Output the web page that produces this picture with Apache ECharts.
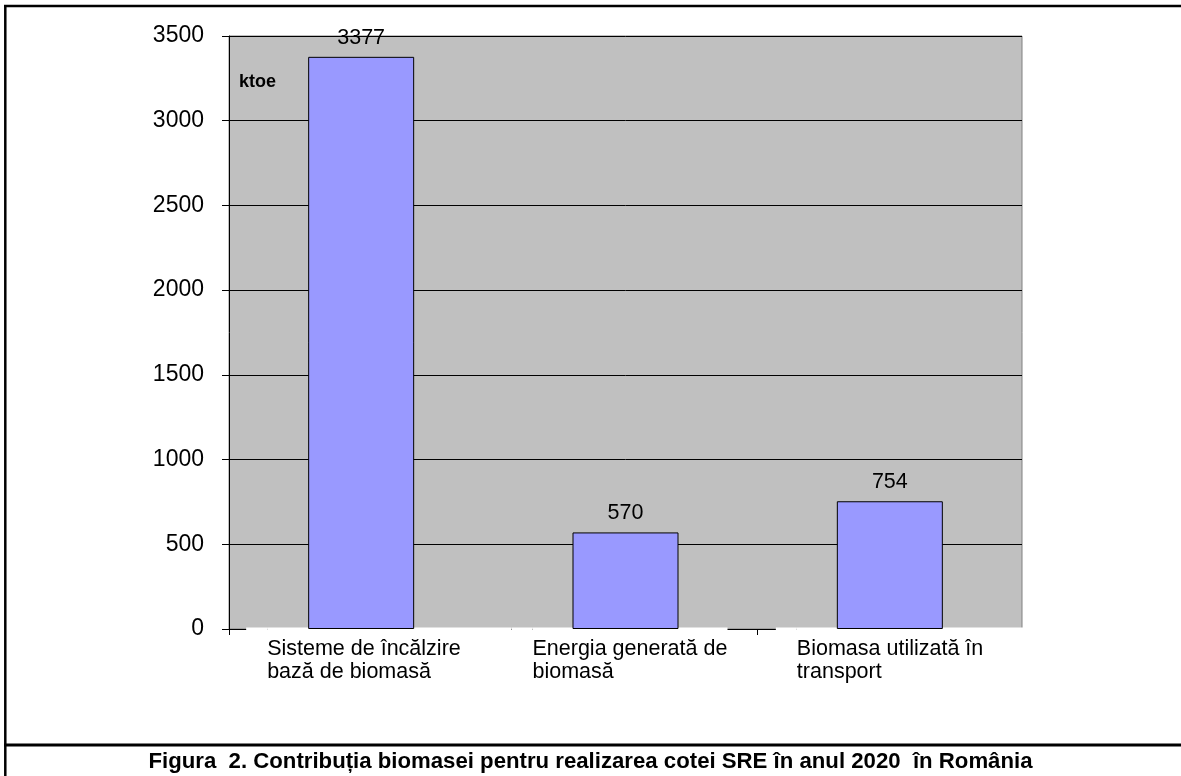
<!DOCTYPE html>
<html>
<head>
<meta charset="utf-8">
<title>Figura 2. Contribuția biomasei</title>
<script src="https://cdn.jsdelivr.net/npm/echarts@6/dist/echarts.min.js"></script>
<style>
  html, body { margin: 0; padding: 0; background: #fff; }
  #chart { width: 1181px; height: 776px; }
</style>
</head>
<body>
<div id="chart"></div>
<script>
// Biomass contribution to the 2020 renewable-energy share (ktoe)
const categories = [
  'Sisteme de încălzire\nbază de biomasă',
  'Energia generată de\nbiomasă',
  'Biomasa utilizată în\ntransport'
];
const values = [3377, 570, 754];
const yTicks = { min: 0, max: 3500, interval: 500 };
const unitLabel = 'ktoe';
const figureTitle = 'Figura  2. Contribuția biomasei pentru realizarea cotei SRE în anul 2020  în România';

const FONT = '"Liberation Sans", Arial, sans-serif';

// Each category label sits on a white plate; the plates are built from
// a left spacer, a white indent, the white text cell and a right spacer.
const plates = [
  { left: 35, indent: 21, text: 244, right: 0 },
  { left: 0,  indent: 21, text: 195, right: 12 },
  { left: 26, indent: 21, text: 233, right: 0 }
];

const labelRich = {};
plates.forEach((p, i) => {
  const base = { align: 'left', lineHeight: 23, fontFamily: FONT, fontSize: 21.5, color: '#000' };
  labelRich['l' + i] = Object.assign({}, base, { width: p.left });
  labelRich['r' + i] = Object.assign({}, base, { width: p.right });
  // first line: taller white plate reaching up to the axis
  labelRich['pa' + i] = Object.assign({}, base, { width: p.indent, height: 44, backgroundColor: '#fff' });
  labelRich['ta' + i] = Object.assign({}, base, { width: p.text, height: 44, backgroundColor: '#fff' });
  labelRich['pb' + i] = Object.assign({}, base, { width: p.indent, height: 24, backgroundColor: '#fff' });
  labelRich['tb' + i] = Object.assign({}, base, { width: p.text, height: 24, backgroundColor: '#fff' });
});

function categoryLabel(value, index) {
  const i = index % plates.length;
  return value.split('\n').map((line, k) => {
    const s = k === 0 ? 'a' : 'b';
    return '{l' + i + '| }{p' + s + i + '| }{t' + s + i + '|' + line + '}{r' + i + '| }';
  }).join('\n');
}

const chart = echarts.init(document.getElementById('chart'), null, { renderer: 'canvas' });

chart.setOption({
  animation: false,
  backgroundColor: '#fff',
  textStyle: { fontFamily: FONT },
  title: {
    text: figureTitle,
    left: 'center',
    top: 746,
    textStyle: { fontFamily: FONT, fontSize: 22.2, fontWeight: 'bold', color: '#000' }
  },
  grid: {
    left: 229, right: 159, top: 36, bottom: 147,
    show: true,
    backgroundColor: '#C0C0C0',
    borderColor: '#808080',
    borderWidth: 1,
    containLabel: false
  },
  xAxis: {
    type: 'category',
    data: categories,
    boundaryGap: true,
    axisLine: { show: true, lineStyle: { color: '#000', width: 1 } },
    axisTick: { show: true, alignWithLabel: false, length: 6, lineStyle: { color: '#000' } },
    axisLabel: {
      interval: 0,
      margin: 9,
      align: 'center',
      formatter: categoryLabel,
      rich: labelRich
    },
    splitLine: { show: false }
  },
  yAxis: {
    type: 'value',
    min: yTicks.min,
    max: yTicks.max,
    interval: yTicks.interval,
    axisLine: { show: true, lineStyle: { color: '#000', width: 1 } },
    axisTick: { show: true, length: 7, lineStyle: { color: '#000' } },
    axisLabel: {
      margin: 25, fontFamily: FONT, fontSize: 23, color: '#000',
      formatter: v => String(v)
    },
    splitLine: { show: true, lineStyle: { color: '#000', width: 1 } }
  },
  series: [{
    type: 'bar',
    data: values,
    barWidth: 106,
    itemStyle: { color: '#9999FF', borderColor: '#000', borderWidth: 1 },
    label: {
      show: true,
      position: 'top',
      distance: 8,
      fontFamily: FONT,
      fontSize: 21.5,
      color: '#000'
    }
  }],
  graphic: [
    {
      type: 'text', left: 239, top: 73, z: 100,
      style: { text: unitLabel, font: 'bold 18px ' + FONT, fill: '#000' }
    },
    // frame lines around the figure
    { type: 'line', z: 100, shape: { x1: 4, y1: 6, x2: 1181, y2: 6 }, style: { stroke: '#000', lineWidth: 2.5 } },
    { type: 'line', z: 100, shape: { x1: 5.3, y1: 5, x2: 5.3, y2: 776 }, style: { stroke: '#000', lineWidth: 2.5 } },
    { type: 'line', z: 100, shape: { x1: 4, y1: 745, x2: 1181, y2: 745 }, style: { stroke: '#000', lineWidth: 3 } }
  ]
});
</script>
</body>
</html>
